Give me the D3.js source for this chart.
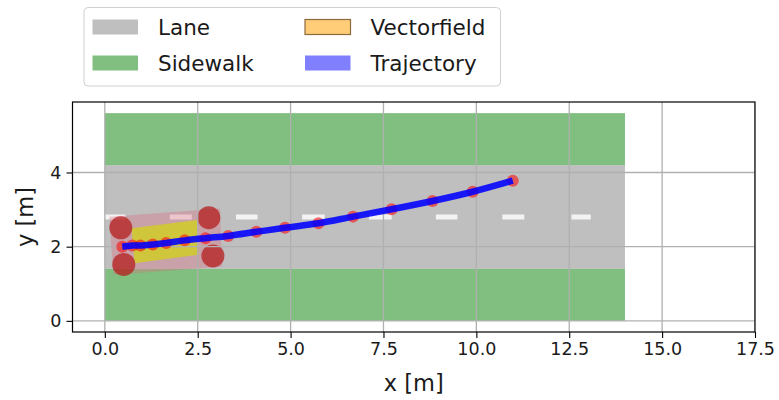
<!DOCTYPE html>
<html><head><meta charset="utf-8">
<script src="https://cdn.jsdelivr.net/npm/d3@7"></script>
<style>
body{margin:0;background:#fff}
svg{display:block}
text{font-family:"DejaVu Sans",sans-serif;fill:#1a1a1a}
</style>
</head><body>
<svg id="c" width="779" height="400"></svg>
<script>
// ---- data ----
const xTicks = [0, 2.5, 5, 7.5, 10, 12.5, 15, 17.5];
const yTicks = [0, 2, 4];
const xDomain = [-0.87, 17.5];
const yDomain = [-0.3, 5.9];
const roadX = [0, 14];
const sidewalkBands = [[0, 1.4], [4.2, 5.6]];
const laneBand = [1.4, 4.2];
const dashY = 2.8;
const dashStart = [0.0, 1.75, 3.53, 5.31, 7.11, 8.91, 10.70, 12.56];
const dashEnd   = [0.56, 2.34, 4.11, 5.92, 7.72, 9.49, 11.29, 13.08];
const trajX = [0.47, 0.74, 0.96, 1.29, 1.65, 2.15, 2.71, 3.32, 4.08, 4.85, 5.75, 6.68, 7.72, 8.82, 9.90, 10.98];
const trajY = [2.00, 2.03, 2.03, 2.06, 2.10, 2.17, 2.23, 2.29, 2.40, 2.51, 2.63, 2.81, 3.01, 3.23, 3.48, 3.78];
const vfOuterX = [0.12, 3.10, 3.16, 0.23];
const vfOuterY = [2.81, 3.03, 1.46, 1.24];
const vfInnerX = [0.72, 2.48, 2.52, 0.80];
const vfInnerY = [2.50, 2.72, 1.78, 1.55];
const cornerX = [0.43, 2.80, 2.91, 0.51];
const cornerY = [2.51, 2.78, 1.75, 1.52];
const legendLabels = ["Lane", "Sidewalk", "Vectorfield", "Trajectory"];
const xLabel = "x [m]", yLabel = "y [m]";

// ---- layout ----
const L = 72.5, R = 755, T = 102, B = 332;
const x = d3.scaleLinear().domain(xDomain).range([L, R]);
const y = d3.scaleLinear().domain(yDomain).range([B, T]);
const svg = d3.select("#c");

svg.append("defs").append("clipPath").attr("id", "clip")
  .append("rect").attr("x", L).attr("y", T).attr("width", R - L).attr("height", B - T);
const g = svg.append("g").attr("clip-path", "url(#clip)");

// lane
g.append("rect").attr("x", x(roadX[0])).attr("width", x(roadX[1]) - x(roadX[0]))
  .attr("y", y(laneBand[1])).attr("height", y(laneBand[0]) - y(laneBand[1]))
  .attr("fill", "#bfbfbf");
// sidewalks
g.selectAll("rect.sw").data(sidewalkBands).enter().append("rect").attr("class", "sw")
  .attr("x", x(roadX[0])).attr("width", x(roadX[1]) - x(roadX[0]))
  .attr("y", d => y(d[1])).attr("height", d => y(d[0]) - y(d[1]))
  .attr("fill", "#80bf80");
// dashes
g.selectAll("line.dash").data(dashStart).enter().append("line").attr("class", "dash")
  .attr("x1", d => x(d)).attr("x2", (d, i) => x(dashEnd[i]))
  .attr("y1", y(dashY)).attr("y2", y(dashY))
  .attr("stroke", "#f3f3f3").attr("stroke-width", 5);

// vectorfield
const poly = (xs, ys) => xs.map((v, i) => [x(v), y(ys[i])].join(",")).join(" ");
g.append("polygon").attr("points", poly(vfOuterX, vfOuterY))
  .attr("fill", "rgb(225,100,125)").attr("fill-opacity", 0.32);
g.append("polygon").attr("points", poly(vfInnerX, vfInnerY))
  .attr("fill", "rgb(208,202,48)").attr("fill-opacity", 0.9);
g.selectAll("circle.corner").data(cornerX).enter().append("circle").attr("class", "corner")
  .attr("cx", d => x(d)).attr("cy", (d, i) => y(cornerY[i])).attr("r", 11.5)
  .attr("fill", "rgb(180,25,25)").attr("fill-opacity", 0.72);

// grid
g.selectAll("line.gx").data(xTicks).enter().append("line")
  .attr("x1", d => x(d)).attr("x2", d => x(d)).attr("y1", T).attr("y2", B)
  .attr("stroke", "#b0b0b0").attr("stroke-width", 1.3);
g.selectAll("line.gy").data(yTicks).enter().append("line")
  .attr("y1", d => y(d)).attr("y2", d => y(d)).attr("x1", L).attr("x2", R)
  .attr("stroke", "#b0b0b0").attr("stroke-width", 1.3);

// trajectory
const pts = trajX.map((v, i) => [v, trajY[i]]);
g.selectAll("circle.pt").data(pts).enter().append("circle")
  .attr("cx", d => x(d[0])).attr("cy", d => y(d[1])).attr("r", 6)
  .attr("fill", "red").attr("fill-opacity", 0.55);
g.append("path").datum(pts)
  .attr("d", d3.line().x(d => x(d[0])).y(d => y(d[1])).curve(d3.curveCatmullRom))
  .attr("fill", "none").attr("stroke", "blue").attr("stroke-opacity", 0.88)
  .attr("stroke-width", 6.5).attr("stroke-linecap", "butt");

// axes
const xAxis = d3.axisBottom(x).tickValues(xTicks).tickFormat(d3.format(".1f")).tickSize(6).tickPadding(5);
const yAxis = d3.axisLeft(y).tickValues(yTicks).tickFormat(d3.format("d")).tickSize(6).tickPadding(5);
const gx = svg.append("g").attr("transform", `translate(0,${B})`).call(xAxis);
const gy = svg.append("g").attr("transform", `translate(${L},0)`).call(yAxis);
[gx, gy].forEach(a => {
  a.select(".domain").remove();
  a.selectAll(".tick line").attr("stroke", "#000").attr("stroke-width", 1.1);
  a.selectAll(".tick text").attr("font-size", 17.5).attr("font-family", "DejaVu Sans").attr("fill", "#1a1a1a");
});
svg.append("rect").attr("x", L).attr("y", T).attr("width", R - L).attr("height", B - T)
  .attr("fill", "none").attr("stroke", "#000").attr("stroke-width", 1.2);

svg.append("text").attr("x", (L + R) / 2).attr("y", 391).attr("text-anchor", "middle")
  .attr("font-size", 22.5).text(xLabel);
svg.append("text").attr("transform", `translate(33,${(T + B) / 2}) rotate(-90)`)
  .attr("text-anchor", "middle").attr("font-size", 22.5).text(yLabel);

// legend
const leg = svg.append("g");
leg.append("rect").attr("x", 84).attr("y", 7.5).attr("width", 416.5).attr("height", 78.5)
  .attr("rx", 4).attr("fill", "#fff").attr("fill-opacity", 0.8).attr("stroke", "#d0d0d0");
const legFill = ["#bfbfbf", "#80bf80", "#ffcc77", "#8080ff"];
const legStroke = [null, null, "#8c6a3c", null];
const legPos = [[92.5, 19.5], [92.5, 55.5], [305, 19.5], [305, 55.5]];
legendLabels.forEach((lab, i) => {
  const [px, py] = legPos[i];
  const r = leg.append("rect").attr("x", px).attr("y", py).attr("width", 45.5).attr("height", 15).attr("fill", legFill[i]);
  if (legStroke[i]) r.attr("stroke", legStroke[i]).attr("stroke-width", 1.2);
  leg.append("text").attr("x", px + 65.5).attr("y", py + 15).attr("font-size", 21.5).text(lab);
});
</script>
</body></html>
